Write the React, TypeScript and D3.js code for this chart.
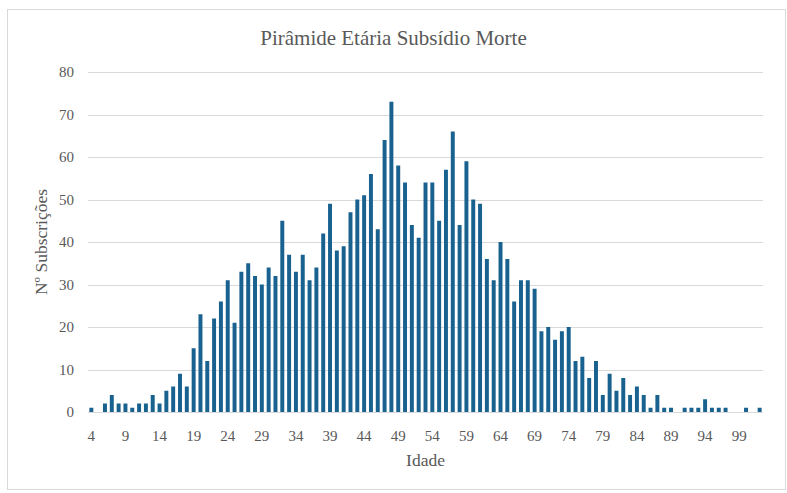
import { useEffect, useRef } from "react";
import * as d3 from "d3";

const width = 787;
const height = 493;

// idades 4..102 (categorias contínuas, zero onde não há barra)
const ages = d3.range(4, 103);
const counts = [
  1, 0, 2, 4, 2, 2, 1, 2, 2, 4, // 4-13
  2, 5, 6, 9, 6, 15, 23, 12, 22, 26, // 14-23
  31, 21, 33, 35, 32, 30, 34, 32, 45, 37, // 24-33
  33, 37, 31, 34, 42, 49, 38, 39, 47, 50, // 34-43
  51, 56, 43, 64, 73, 58, 54, 44, 41, 54, // 44-53
  54, 45, 57, 66, 44, 59, 50, 49, 36, 31, // 54-63
  40, 36, 26, 31, 31, 29, 19, 20, 17, 19, // 64-73
  20, 12, 13, 8, 12, 4, 9, 5, 8, 4, // 74-83
  6, 4, 1, 4, 1, 1, 0, 1, 1, 1, // 84-93
  3, 1, 1, 1, 0, 0, 1, 0, 1, // 94-102
];
const yTicks = [0, 10, 20, 30, 40, 50, 60, 70, 80];
const title = "Pirâmide Etária Subsídio Morte";
const xTitle = "Idade";
const yTitle = "Nº Subscrições";

const margin = { top: 72, right: 24, bottom: 81, left: 88 };
const barColor = "#19628f";
const textColor = "#595959";
const gridColor = "#d9d9d9";
const font = "'Liberation Serif', 'DejaVu Serif', serif";

export default function App() {
  const svgRef = useRef<SVGSVGElement>(null);

  useEffect(() => {
    if (!svgRef.current) return;
    const svg = d3.select(svgRef.current);
    svg.selectAll("*").remove();

    const x = d3
      .scaleBand<string>()
      .domain(ages.map(String))
      .range([margin.left, width - margin.right])
      .paddingInner(0.42)
      .paddingOuter(0.2);

    const y = d3
      .scaleLinear()
      .domain([0, 80])
      .range([height - margin.bottom, margin.top]);

    // moldura
    svg
      .append("rect")
      .attr("x", 7.5)
      .attr("y", 9.5)
      .attr("width", 778)
      .attr("height", 480)
      .attr("fill", "#fff")
      .attr("stroke", gridColor);

    // grelha
    svg
      .append("g")
      .selectAll("line")
      .data(yTicks)
      .join("line")
      .attr("x1", margin.left)
      .attr("x2", width - margin.right)
      .attr("y1", (d) => Math.round(y(d)) + 0.5)
      .attr("y2", (d) => Math.round(y(d)) + 0.5)
      .attr("stroke", gridColor)
      .attr("stroke-width", 1);

    // barras
    svg
      .append("g")
      .selectAll("rect")
      .data(ages.map((a, i) => ({ age: a, v: counts[i] })).filter((d) => d.v > 0))
      .join("rect")
      .attr("x", (d) => x(String(d.age))!)
      .attr("width", x.bandwidth())
      .attr("y", (d) => y(d.v))
      .attr("height", (d) => y(0) - y(d.v))
      .attr("fill", barColor);

    // eixo y
    svg
      .append("g")
      .selectAll("text")
      .data(yTicks)
      .join("text")
      .attr("x", margin.left - 14)
      .attr("y", (d) => y(d))
      .attr("dy", "0.35em")
      .attr("text-anchor", "end")
      .attr("font-family", font)
      .attr("font-size", 15)
      .attr("fill", textColor)
      .text((d) => d);

    // eixo x
    svg
      .append("g")
      .selectAll("text")
      .data(ages.filter((a) => (a - 4) % 5 === 0))
      .join("text")
      .attr("x", (d) => x(String(d))! + x.bandwidth() / 2)
      .attr("y", height - margin.bottom + 29)
      .attr("text-anchor", "middle")
      .attr("font-family", font)
      .attr("font-size", 15)
      .attr("fill", textColor)
      .text((d) => d);

    svg
      .append("text")
      .attr("x", width / 2)
      .attr("y", 45)
      .attr("text-anchor", "middle")
      .attr("font-family", font)
      .attr("font-size", 21)
      .attr("fill", textColor)
      .text(title);

    svg
      .append("text")
      .attr("x", (margin.left + width - margin.right) / 2)
      .attr("y", 466)
      .attr("text-anchor", "middle")
      .attr("font-family", font)
      .attr("font-size", 17.5)
      .attr("fill", textColor)
      .text(xTitle);

    svg
      .append("text")
      .attr("transform", `translate(47,${(margin.top + height - margin.bottom) / 2}) rotate(-90)`)
      .attr("text-anchor", "middle")
      .attr("font-family", font)
      .attr("font-size", 17.5)
      .attr("fill", textColor)
      .text(yTitle);
  }, []);

  return (
    <svg
      ref={svgRef}
      width={width}
      height={height}
      style={{ position: "absolute", left: 0, top: 0, background: "#fff" }}
    />
  );
}
